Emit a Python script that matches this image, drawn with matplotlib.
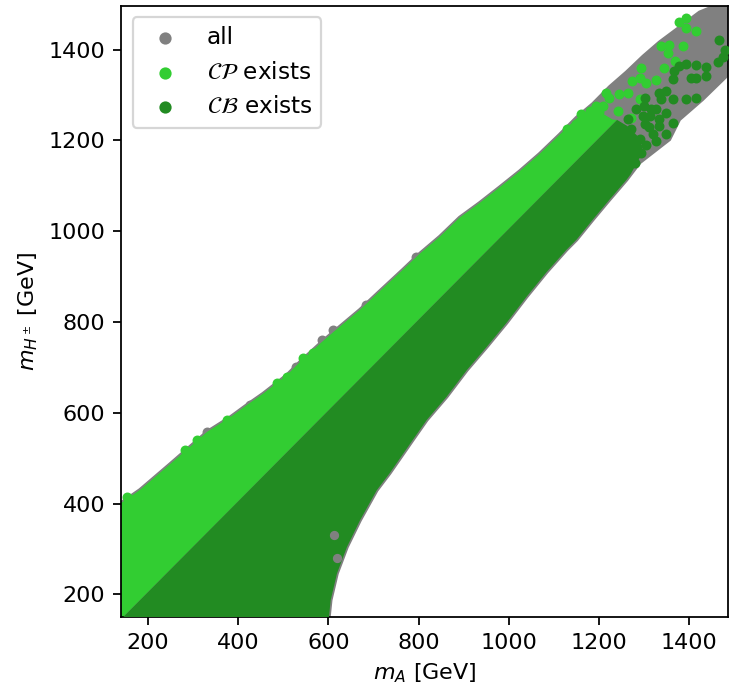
import matplotlib
matplotlib.use("Agg")
import matplotlib.pyplot as plt

# ---- data (GeV) ----
# outline of the "all" region (upper edge, left -> right)
all_upper_x = [100, 140, 182, 249, 286, 331, 382, 419, 455, 508, 537, 581, 610, 670, 714, 765,
               802, 847, 891, 935, 980, 1024, 1068, 1112, 1150, 1186, 1224, 1261, 1298, 1334,
               1380, 1423, 1460, 1490]
all_upper_y = [370, 401, 430, 487, 519, 558, 590, 617, 642, 683, 712, 752, 777, 827, 868, 915,
               950, 988, 1030, 1062, 1097, 1132, 1170, 1212, 1250, 1280, 1318, 1350, 1385, 1416,
               1450, 1482, 1497, 1502]
# lower edge of the "all" region (right -> left)
all_lower_x = [1490, 1429, 1378, 1356, 1290, 1261, 1223, 1186, 1150, 1128, 1084, 1039, 995, 951,
               907, 862, 818, 787, 736, 707, 670, 641, 619, 605, 601, 598, 100]
all_lower_y = [1349, 1290, 1246, 1202, 1151, 1113, 1069, 1025, 981, 959, 910, 855, 798, 745,
               694, 635, 584, 540, 467, 429, 363, 304, 246, 187, 149, 100, 100]

# CP region: upper edge of the solid part
cp_upper_x = [100, 140, 182, 249, 286, 331, 382, 419, 455, 508, 537, 581, 610, 670, 714, 765,
              802, 847, 891, 935, 980, 1024, 1068, 1112, 1150, 1186, 1230]
cp_upper_y = [370, 401, 430, 487, 519, 558, 590, 617, 642, 683, 712, 752, 777, 827, 868, 915,
              950, 988, 1030, 1062, 1097, 1132, 1170, 1212, 1248, 1272, 1246]
# boundary between CP and CB regions (m_H+- ~ m_A)
diag_x = [100, 1240]
diag_y = [105, 1245]
# CB region: top-right corner and lower edge (right -> left)
cb_lower_x = [1262, 1290, 1295, 1270, 1261, 1223, 1186, 1150, 1128, 1084, 1039, 995, 951,
              907, 862, 818, 787, 736, 707, 670, 641, 619, 605, 601, 598, 100]
cb_lower_y = [1232, 1205, 1170, 1125, 1113, 1069, 1025, 981, 959, 910, 855, 798, 745,
              694, 635, 584, 540, 467, 429, 363, 304, 246, 187, 149, 100, 100]

# individual points visible outside the solid areas
all_pts_x = [204, 234, 256, 282, 330, 396, 426, 455, 529, 585, 610, 684, 795]
all_pts_y = [426, 437, 477, 503, 558, 584, 617, 632, 701, 760, 782, 838, 944]
all_gap_x = [612, 618]
all_gap_y = [330, 280]
cp_pts_x = [153, 186, 160, 227, 282, 308, 374, 485, 507, 544, 566,
            1378, 1392, 1393, 1415, 1338, 1356, 1387, 1352, 1369, 1343, 1292, 1274, 1290, 1305,
            1327, 1216, 1223, 1245, 1264, 1290, 1194, 1209, 1179, 1242, 1271, 1161, 1150, 1186,
            1130, 1160, 1200]
cp_pts_y = [415, 422, 393, 452, 518, 540, 584, 665, 679, 720, 731,
            1460, 1470, 1448, 1441, 1408, 1411, 1408, 1393, 1374, 1360, 1360, 1330, 1338, 1327,
            1332, 1305, 1294, 1301, 1305, 1290, 1275, 1275, 1264, 1264, 1249, 1257, 1235, 1249,
            1225, 1240, 1262]
cb_pts_x = [1465, 1479, 1474, 1463, 1437, 1437, 1414, 1415, 1393, 1404, 1378, 1367, 1364,
            1415, 1393, 1364, 1349, 1334, 1338, 1301, 1349, 1334, 1327, 1312, 1297, 1282, 1264,
            1301, 1271, 1253, 1268, 1290, 1327, 1349, 1334, 1364, 1275, 1293, 1279, 1260,
            1310, 1320, 1305, 1285, 1250, 1240, 1315, 1300]
cb_pts_y = [1420, 1398, 1383, 1372, 1361, 1342, 1365, 1338, 1369, 1338, 1364, 1352, 1334,
            1294, 1290, 1290, 1308, 1305, 1290, 1294, 1260, 1246, 1268, 1253, 1253, 1268, 1246,
            1235, 1224, 1216, 1198, 1202, 1198, 1213, 1231, 1238, 1176, 1172, 1150, 1169,
            1230, 1215, 1190, 1185, 1200, 1225, 1270, 1275]

xticks = [200, 400, 600, 800, 1000, 1200, 1400]
yticks = [200, 400, 600, 800, 1000, 1200, 1400]

c_all = "grey"
c_cp = "limegreen"
c_cb = "forestgreen"

DPI = 160
fig = plt.figure(figsize=(729 / DPI, 688 / DPI), dpi=DPI)
ax = fig.add_axes([121 / 729, 71 / 688, 607 / 729, 611.5 / 688])

# "all" region
ax.fill(all_upper_x + all_lower_x, all_upper_y + all_lower_y,
        facecolor=c_all, edgecolor=c_all, linewidth=1.6, zorder=1)
s_all = ax.scatter(all_pts_x, all_pts_y, s=12, color=c_all, label="all", zorder=1.5)
# CP region
ax.fill(cp_upper_x + diag_x[::-1], cp_upper_y + diag_y[::-1],
        facecolor=c_cp, edgecolor="none", zorder=2)
s_cp = ax.scatter(cp_pts_x, cp_pts_y, s=12, color=c_cp,
                  label=r"$\mathcal{CP}$ exists", zorder=2.5)
# CB region
ax.fill(diag_x + cb_lower_x, diag_y + cb_lower_y,
        facecolor=c_cb, edgecolor="none", zorder=3)
ax.scatter(all_gap_x, all_gap_y, s=10, color=c_all, zorder=3.2)
s_cb = ax.scatter(cb_pts_x, cb_pts_y, s=12, color=c_cb,
                  label=r"$\mathcal{CB}$ exists", zorder=3.5)

ax.set_xlim(140, 1486)
ax.set_ylim(150, 1497)
ax.set_xticks(xticks)
ax.set_yticks(yticks)
ax.set_xlabel(r"$m_A$ [GeV]")
ax.set_ylabel(r"$m_{H^\pm}$ [GeV]")
ax.legend(handles=[s_all, s_cp, s_cb], loc="upper left", markerscale=1.3, fontsize=10.4)

fig.savefig("out.png", dpi=DPI)
